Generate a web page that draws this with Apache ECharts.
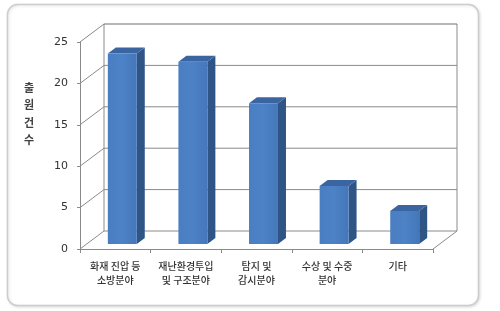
<!DOCTYPE html>
<html><head><meta charset="utf-8">
<script src="https://cdn.jsdelivr.net/npm/echarts@6/dist/echarts.min.js"></script>
<style>html,body{margin:0;padding:0;background:#fff}#c{width:500px;height:311px}</style>
</head><body><div id="c"></div>
<script>
const categories = ['화재 진압 등\n소방분야', '재난환경투입\n및 구조분야', '탐지 및\n감시분야', '수상 및 수중\n분야', '기타'];
const values = [23, 22, 17, 7, 4];
const yTicks = [0, 5, 10, 15, 20, 25];
const yTitle = '출\n원\n건\n수';

const DX = 24, DY = -18;      // wall depth
const FX = 7, FY = -5;        // bar front offset
const BDX = 8, BDY = -6;      // bar depth
const LINE = '#8a8a8a';

const chart = echarts.init(document.getElementById('c'));
chart.setOption({
  animation: false,
  backgroundColor: '#fff',
  graphic: [
    { type: 'rect', shape: { x: 7.5, y: 4.5, width: 471, height: 301, r: 10 },
      style: { fill: '#fff', stroke: '#cdcdcd', lineWidth: 1.5, shadowColor: 'rgba(0,0,0,0.12)', shadowBlur: 3, shadowOffsetX: 1, shadowOffsetY: 1 }, z: -10 },
    { type: 'text', left: 24, top: 79,
      style: { text: yTitle, font: 'bold 11px "Noto Sans CJK KR"', fill: '#404040', lineHeight: 17.5, align: 'center' } }
  ],
  grid: { left: 80, right: 67, top: 42, bottom: 62, containLabel: false, outerBoundsMode: 'none' },
  xAxis: {
    type: 'category', data: categories,
    axisLine: { lineStyle: { color: LINE, width: 1 } },
    axisTick: { show: true, length: 4, lineStyle: { color: LINE } },
    axisLabel: { interval: 0, margin: 10, fontSize: 10, lineHeight: 14, color: '#333', fontFamily: 'Noto Sans CJK KR', fontWeight: 500 },
    splitLine: { show: false }
  },
  yAxis: {
    type: 'value', min: 0, max: 25, interval: 5,
    axisLine: { show: true, lineStyle: { color: LINE, width: 1 } },
    axisTick: { show: true, length: 3, lineStyle: { color: LINE } },
    axisLabel: { margin: 12, fontSize: 11, color: '#333', fontFamily: 'DejaVu Sans' },
    splitLine: { show: false }
  },
  series: [
    {
      type: 'custom', z: 1, silent: true,
      data: yTicks.map(v => [0, v]),
      encode: { x: 0, y: 1 },
      renderItem: function (params, api) {
        const cs = params.coordSys;
        const x0 = cs.x, x1 = cs.x + cs.width;
        const v = api.value(1);
        const y = api.coord([0, v])[1];
        const st = { stroke: LINE, lineWidth: 1, fill: null };
        const ch = [
          { type: 'line', shape: { x1: x0, y1: y, x2: x0 + DX, y2: y + DY }, style: st },
          { type: 'line', shape: { x1: x0 + DX, y1: y + DY, x2: x1 + DX, y2: y + DY }, style: v === 25 ? { stroke: '#6e6e6e', lineWidth: 1.2 } : st }
        ];
        if (v === 0) {
          ch.push({ type: 'line', shape: { x1: x1, y1: y, x2: x1 + DX, y2: y + DY }, style: st });
          const yt = api.coord([0, 25])[1];
          ch.push({ type: 'line', shape: { x1: x0 + DX, y1: y + DY, x2: x0 + DX, y2: yt + DY }, style: st });
          ch.push({ type: 'line', shape: { x1: x1 + DX, y1: y + DY, x2: x1 + DX, y2: yt + DY }, style: st });
        }
        return { type: 'group', children: ch };
      }
    },
    {
      type: 'custom', z: 5,
      data: values.map((v, i) => [i, v]),
      encode: { x: 0, y: 1 },
      renderItem: function (params, api) {
        const i = api.value(0), v = api.value(1);
        const c = api.coord([i, v]);
        const b = api.coord([i, 0]);
        const bw = api.size([1, 0])[0];
        const w = bw * 0.41;
        const xc = c[0] + FX;
        const L = xc - w / 2, R = xc + w / 2;
        const T = c[1] + FY, B = b[1] + FY;
        return {
          type: 'group',
          children: [
            { type: 'polygon', shape: { points: [[R, T], [R + BDX, T + BDY], [R + BDX, B + BDY], [R, B]] },
              style: { fill: '#2F5586' } },
            { type: 'polygon', shape: { points: [[L, T], [L + BDX, T + BDY], [R + BDX, T + BDY], [R, T]] },
              style: { fill: '#3B65A0' } },
            { type: 'rect', shape: { x: L, y: T, width: w, height: B - T },
              style: { fill: new echarts.graphic.LinearGradient(0, 0, 1, 0, [
                { offset: 0, color: '#4A7EC2' }, { offset: 0.5, color: '#4D82C6' }, { offset: 1, color: '#4477BA' }]) } }
          ]
        };
      }
    }
  ]
});
</script>
</body></html>
